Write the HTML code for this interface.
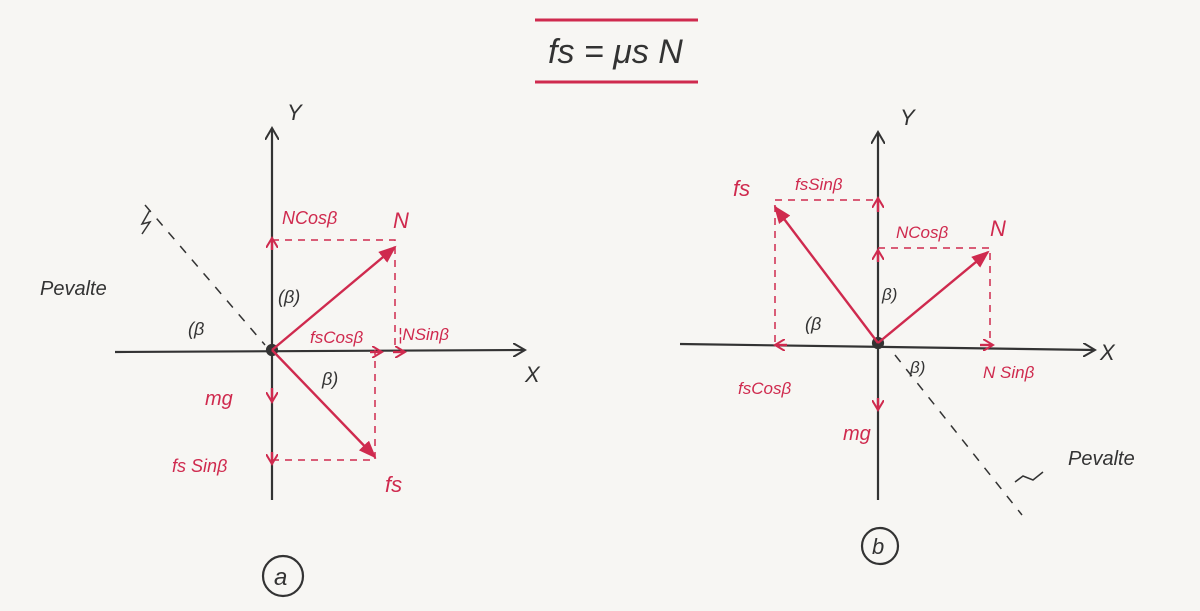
<!DOCTYPE html>
<html><head><meta charset="utf-8"><style>
html,body{margin:0;padding:0;background:#f7f6f3;}
svg{display:block}
text{font-family:"Liberation Sans",sans-serif;font-style:italic}
.r{fill:#cf2a4e}
.k{fill:#333}
</style></head><body>
<svg width="1200" height="611" viewBox="0 0 1200 611" xmlns="http://www.w3.org/2000/svg">
<defs>
<marker id="ar" markerWidth="18" markerHeight="14" refX="16" refY="7" orient="auto" markerUnits="userSpaceOnUse"><path d="M0,0 L18,7 L0,14 Z" fill="#cf2a4e"/></marker>
<marker id="ak" markerWidth="14" markerHeight="14" refX="12" refY="7" orient="auto" markerUnits="userSpaceOnUse"><path d="M0,0 L12,7 L0,14" fill="none" stroke="#333" stroke-width="2"/></marker>
<marker id="ao" markerWidth="12" markerHeight="12" refX="10" refY="6" orient="auto" markerUnits="userSpaceOnUse"><path d="M0,0 L10,6 L0,12" fill="none" stroke="#cf2a4e" stroke-width="2"/></marker>
</defs>
<line x1="535" y1="20" x2="698" y2="20" stroke="#cf2a4e" stroke-width="3"/>
<line x1="535" y1="82" x2="698" y2="82" stroke="#cf2a4e" stroke-width="3"/>
<text x="548" y="63" font-size="34" class="k">fs = μs N</text>

<g stroke="#333" stroke-width="2.2" fill="none">
<line x1="272" y1="500" x2="272" y2="128" marker-end="url(#ak)"/>
<line x1="115" y1="352" x2="525" y2="350" marker-end="url(#ak)"/>
<line x1="145" y1="205" x2="265" y2="345" stroke-dasharray="9,9" stroke-width="1.5"/>
<path d="M150,210 l-8,14 l8,-2 l-8,12" stroke-width="1.5"/>
<circle cx="272" cy="350" r="5" fill="#333"/>
<circle cx="283" cy="576" r="20"/>
<circle cx="880" cy="546" r="18"/>
</g>
<g stroke="#cf2a4e" stroke-width="2.4" fill="none">
<line x1="272" y1="350" x2="395" y2="247" marker-end="url(#ar)"/>
<line x1="272" y1="350" x2="375" y2="457" marker-end="url(#ar)"/>
<path d="M272,240 H395 V350 M272,460 H375 V350" stroke-dasharray="7,6" stroke-width="1.5"/>
<line x1="272" y1="250" x2="272" y2="238" marker-end="url(#ao)"/>
<line x1="370" y1="352" x2="382" y2="352" marker-end="url(#ao)"/>
<line x1="393" y1="352" x2="405" y2="352" marker-end="url(#ao)"/>
<line x1="272" y1="388" x2="272" y2="402" marker-end="url(#ao)"/>
<line x1="272" y1="452" x2="272" y2="464" marker-end="url(#ao)"/>
</g>
<text x="282" y="224" font-size="18" class="r">NCosβ</text>
<text x="393" y="228" font-size="22" class="r">N</text>
<text x="310" y="343" font-size="17" class="r">fsCosβ</text>
<text x="398" y="340" font-size="17" class="r">¦NSinβ</text>
<text x="205" y="405" font-size="20" class="r">mg</text>
<text x="172" y="472" font-size="18" class="r">fs Sinβ</text>
<text x="385" y="492" font-size="22" class="r">fs</text>
<text x="278" y="303" font-size="18" class="k">(β)</text>
<text x="188" y="335" font-size="18" class="k">(β</text>
<text x="322" y="385" font-size="18" class="k">β)</text>
<text x="40" y="295" font-size="20" class="k">Pevalte</text>
<text x="287" y="120" font-size="22" class="k">Y</text>
<text x="525" y="382" font-size="22" class="k">X</text>
<text x="274" y="585" font-size="24" class="k">a</text>

<g stroke="#333" stroke-width="2.2" fill="none">
<line x1="878" y1="500" x2="878" y2="132" marker-end="url(#ak)"/>
<line x1="680" y1="344" x2="1095" y2="350" marker-end="url(#ak)"/>
<line x1="895" y1="355" x2="1022" y2="515" stroke-dasharray="9,9" stroke-width="1.5"/>
<path d="M1015,482 l8,-6 l10,4 l10,-8" stroke-width="1.5"/>
<circle cx="878" cy="343" r="5" fill="#333"/>
</g>
<g stroke="#cf2a4e" stroke-width="2.4" fill="none">
<line x1="878" y1="343" x2="775" y2="207" marker-end="url(#ar)"/>
<line x1="878" y1="343" x2="988" y2="252" marker-end="url(#ar)"/>
<path d="M775,200 H878 M775,205 V345 M878,248 H990 V345" stroke-dasharray="7,6" stroke-width="1.5"/>
<line x1="878" y1="212" x2="878" y2="198" marker-end="url(#ao)"/>
<line x1="878" y1="262" x2="878" y2="250" marker-end="url(#ao)"/>
<line x1="787" y1="345" x2="775" y2="345" marker-end="url(#ao)"/>
<line x1="980" y1="345" x2="993" y2="345" marker-end="url(#ao)"/>
<line x1="878" y1="398" x2="878" y2="410" marker-end="url(#ao)"/>
</g>
<text x="733" y="196" font-size="22" class="r">fs</text>
<text x="795" y="190" font-size="17" class="r">fsSinβ</text>
<text x="896" y="238" font-size="17" class="r">NCosβ</text>
<text x="990" y="236" font-size="22" class="r">N</text>
<text x="983" y="378" font-size="17" class="r">N Sinβ</text>
<text x="738" y="394" font-size="17" class="r">fsCosβ</text>
<text x="843" y="440" font-size="20" class="r">mg</text>
<text x="882" y="300" font-size="17" class="k">β)</text>
<text x="805" y="330" font-size="18" class="k">(β</text>
<text x="910" y="373" font-size="17" class="k">β)</text>
<text x="1068" y="465" font-size="20" class="k">Pevalte</text>
<text x="900" y="125" font-size="22" class="k">Y</text>
<text x="1100" y="360" font-size="22" class="k">X</text>
<text x="872" y="554" font-size="22" class="k">b</text>
</svg>
</body></html>
